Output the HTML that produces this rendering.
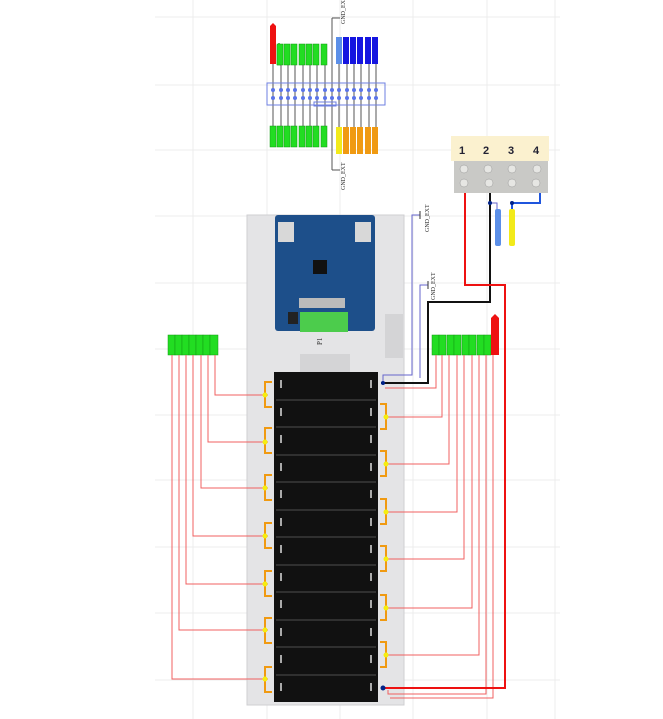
<!DOCTYPE html>
<html><head><meta charset="utf-8"><style>
html,body{margin:0;padding:0;background:#fff;}
svg{display:block;font-family:"Liberation Serif",serif;}
</style></head><body>
<svg width="663" height="719" viewBox="0 0 663 719" xmlns="http://www.w3.org/2000/svg">
<!-- grid -->
<g stroke="#ececec" stroke-width="1">
<line x1="193" y1="0" x2="193" y2="719"/><line x1="267" y1="0" x2="267" y2="719"/>
<line x1="340" y1="0" x2="340" y2="719"/><line x1="413" y1="0" x2="413" y2="719"/>
<line x1="487" y1="0" x2="487" y2="719"/><line x1="555" y1="0" x2="555" y2="719"/>
<line x1="155" y1="17" x2="560" y2="17"/><line x1="155" y1="85" x2="560" y2="85"/>
<line x1="155" y1="150" x2="560" y2="150"/><line x1="155" y1="216" x2="560" y2="216"/>
<line x1="155" y1="283" x2="560" y2="283"/><line x1="155" y1="349" x2="560" y2="349"/>
<line x1="155" y1="415" x2="560" y2="415"/><line x1="155" y1="480" x2="560" y2="480"/>
<line x1="155" y1="547" x2="560" y2="547"/><line x1="155" y1="613" x2="560" y2="613"/>
<line x1="155" y1="680" x2="560" y2="680"/>
</g>

<!-- top connector -->
<g stroke="#555" stroke-width="1">
<line x1="273" y1="64" x2="273" y2="127"/><line x1="281" y1="64" x2="281" y2="127"/>
<line x1="288" y1="64" x2="288" y2="127"/><line x1="295" y1="64" x2="295" y2="127"/>
<line x1="303" y1="64" x2="303" y2="127"/><line x1="310" y1="64" x2="310" y2="127"/>
<line x1="317" y1="64" x2="317" y2="127"/><line x1="325" y1="64" x2="325" y2="127"/>
<line x1="332" y1="18" x2="332" y2="170"/>
<line x1="339" y1="64" x2="339" y2="127"/><line x1="347" y1="64" x2="347" y2="127"/>
<line x1="354" y1="64" x2="354" y2="127"/><line x1="361" y1="64" x2="361" y2="127"/>
<line x1="369" y1="64" x2="369" y2="127"/><line x1="376" y1="64" x2="376" y2="127"/>
<line x1="332" y1="18" x2="340" y2="18"/><line x1="332" y1="170" x2="340" y2="170"/>
</g>
<text x="0" y="0" font-size="6" fill="#333" transform="translate(345,24) rotate(-90)">GND_EXT</text>
<text x="0" y="0" font-size="6" fill="#333" transform="translate(345,190) rotate(-90)">GND_EXT</text>
<rect x="267" y="83" width="118" height="22" fill="none" stroke="#6d7fe0" stroke-width="1"/>
<rect x="314" y="102" width="22" height="4" fill="none" stroke="#6d7fe0" stroke-width="1"/>
<g fill="#5b74e8">
<circle cx="273" cy="90" r="2"/><circle cx="281" cy="90" r="2"/><circle cx="288" cy="90" r="2"/><circle cx="295" cy="90" r="2"/><circle cx="303" cy="90" r="2"/><circle cx="310" cy="90" r="2"/><circle cx="317" cy="90" r="2"/><circle cx="325" cy="90" r="2"/><circle cx="332" cy="90" r="2"/><circle cx="339" cy="90" r="2"/><circle cx="347" cy="90" r="2"/><circle cx="354" cy="90" r="2"/><circle cx="361" cy="90" r="2"/><circle cx="369" cy="90" r="2"/><circle cx="376" cy="90" r="2"/>
<circle cx="273" cy="98" r="2"/><circle cx="281" cy="98" r="2"/><circle cx="288" cy="98" r="2"/><circle cx="295" cy="98" r="2"/><circle cx="303" cy="98" r="2"/><circle cx="310" cy="98" r="2"/><circle cx="317" cy="98" r="2"/><circle cx="325" cy="98" r="2"/><circle cx="332" cy="98" r="2"/><circle cx="339" cy="98" r="2"/><circle cx="347" cy="98" r="2"/><circle cx="354" cy="98" r="2"/><circle cx="361" cy="98" r="2"/><circle cx="369" cy="98" r="2"/><circle cx="376" cy="98" r="2"/>
</g>
<!-- top label flags -->
<path d="M270,26 l3,-3 l3,3 v38 h-6z" fill="#ee1111"/>
<g fill="#22dd22" stroke="#119911" stroke-width="0.5">
<path d="M277,45 l2,-2 l2,2 v20 h-4z" transform="translate(0,0)"/>
<rect x="277" y="44" width="6" height="21"/><rect x="284" y="44" width="6" height="21"/><rect x="291" y="44" width="6" height="21"/><rect x="299" y="44" width="6" height="21"/><rect x="306" y="44" width="6" height="21"/><rect x="313" y="44" width="6" height="21"/><rect x="321" y="44" width="6" height="21"/>
<rect x="270" y="126" width="6" height="21"/><rect x="277" y="126" width="6" height="21"/><rect x="284" y="126" width="6" height="21"/><rect x="291" y="126" width="6" height="21"/><rect x="299" y="126" width="6" height="21"/><rect x="306" y="126" width="6" height="21"/><rect x="313" y="126" width="6" height="21"/><rect x="321" y="126" width="6" height="21"/>
</g>
<rect x="336" y="37" width="6" height="27" fill="#5b8fe8"/>
<g fill="#1515e0">
<rect x="343" y="37" width="6" height="27"/><rect x="350" y="37" width="6" height="27"/><rect x="357" y="37" width="6" height="27"/><rect x="365" y="37" width="6" height="27"/><rect x="372" y="37" width="6" height="27"/>
</g>
<rect x="336" y="127" width="6" height="27" fill="#f2ea1a"/>
<g fill="#f09a12">
<rect x="343" y="127" width="6" height="27"/><rect x="350" y="127" width="6" height="27"/><rect x="357" y="127" width="6" height="27"/><rect x="365" y="127" width="6" height="27"/><rect x="372" y="127" width="6" height="27"/>
</g>

<!-- terminal block -->
<rect x="451" y="136" width="98" height="25" fill="#fbf1cf"/>
<g font-family="Liberation Sans, sans-serif" font-weight="bold" font-size="11" fill="#223">
<text x="459" y="154">1</text><text x="483" y="154">2</text><text x="508" y="154">3</text><text x="533" y="154">4</text>
</g>
<rect x="454" y="161" width="94" height="32" fill="#c9c9c6"/>
<g fill="#e6e6e3" stroke="#999" stroke-width="0.5">
<circle cx="464" cy="169" r="4"/><circle cx="488" cy="169" r="4"/><circle cx="512" cy="169" r="4"/><circle cx="537" cy="169" r="4"/>
<circle cx="464" cy="183" r="4"/><circle cx="489" cy="183" r="4"/><circle cx="512" cy="183" r="4"/><circle cx="536" cy="183" r="4"/>
</g>

<!-- main panel -->
<rect x="247" y="215" width="157" height="490" fill="#e4e4e6" stroke="#cfcfd2"/>
<rect x="275" y="215" width="100" height="116" rx="3" fill="#1d4f8a"/>
<rect x="278" y="222" width="16" height="20" fill="#d8d8d8"/>
<rect x="355" y="222" width="16" height="20" fill="#d8d8d8"/>
<rect x="313" y="260" width="14" height="14" fill="#111"/>
<rect x="299" y="298" width="46" height="10" fill="#bbb"/>
<rect x="300" y="312" width="48" height="20" fill="#4ccc4c"/>
<rect x="288" y="312" width="10" height="12" fill="#222"/>
<rect x="300" y="354" width="50" height="18" fill="#d4d4d6"/>
<rect x="385" y="314" width="18" height="44" fill="#d4d4d6"/>
<text x="0" y="0" font-size="7" fill="#333" transform="translate(322,345) rotate(-90)">P1</text>
<!-- battery holder -->
<rect x="274" y="372" width="104" height="330" fill="#111"/>
<g stroke="#3a3a3a" stroke-width="1.5">
<line x1="276" y1="400" x2="376" y2="400"/><line x1="276" y1="427" x2="376" y2="427"/><line x1="276" y1="455" x2="376" y2="455"/><line x1="276" y1="482" x2="376" y2="482"/><line x1="276" y1="510" x2="376" y2="510"/><line x1="276" y1="537" x2="376" y2="537"/><line x1="276" y1="565" x2="376" y2="565"/><line x1="276" y1="592" x2="376" y2="592"/><line x1="276" y1="620" x2="376" y2="620"/><line x1="276" y1="647" x2="376" y2="647"/><line x1="276" y1="675" x2="376" y2="675"/>
</g>
<g fill="#aaa">
<rect x="280" y="380" width="2" height="8"/><rect x="370" y="380" width="2" height="8"/><rect x="280" y="408" width="2" height="8"/><rect x="370" y="408" width="2" height="8"/><rect x="280" y="435" width="2" height="8"/><rect x="370" y="435" width="2" height="8"/><rect x="280" y="463" width="2" height="8"/><rect x="370" y="463" width="2" height="8"/><rect x="280" y="490" width="2" height="8"/><rect x="370" y="490" width="2" height="8"/><rect x="280" y="518" width="2" height="8"/><rect x="370" y="518" width="2" height="8"/><rect x="280" y="545" width="2" height="8"/><rect x="370" y="545" width="2" height="8"/><rect x="280" y="573" width="2" height="8"/><rect x="370" y="573" width="2" height="8"/><rect x="280" y="600" width="2" height="8"/><rect x="370" y="600" width="2" height="8"/><rect x="280" y="628" width="2" height="8"/><rect x="370" y="628" width="2" height="8"/><rect x="280" y="655" width="2" height="8"/><rect x="370" y="655" width="2" height="8"/><rect x="280" y="683" width="2" height="8"/><rect x="370" y="683" width="2" height="8"/>
</g>

<!-- left/right connectors -->
<g fill="#22dd22" stroke="#119911" stroke-width="0.5">
<rect x="168" y="335" width="7" height="20"/><rect x="175" y="335" width="7" height="20"/><rect x="182" y="335" width="7" height="20"/><rect x="189" y="335" width="7" height="20"/><rect x="196" y="335" width="7" height="20"/><rect x="203" y="335" width="7" height="20"/><rect x="210" y="335" width="8" height="20"/>
<rect x="432" y="335" width="7" height="20"/><rect x="439" y="335" width="7" height="20"/><rect x="447" y="335" width="7" height="20"/><rect x="454" y="335" width="7" height="20"/><rect x="462" y="335" width="7" height="20"/><rect x="469" y="335" width="7" height="20"/><rect x="477" y="335" width="7" height="20"/><rect x="484" y="335" width="7" height="20"/>
</g>
<path d="M491,318 l4,-4 l4,4 v37 h-8z" fill="#ee1111"/>

<!-- thin red signal wires left -->
<g fill="none" stroke="#f06060" stroke-width="1">
<polyline points="215,355 215,395 268,395"/>
<polyline points="208,355 208,442 268,442"/>
<polyline points="201,355 201,488 268,488"/>
<polyline points="193,355 193,536 268,536"/>
<polyline points="186,355 186,584 268,584"/>
<polyline points="179,355 179,630 268,630"/>
<polyline points="172,355 172,679 268,679"/>
<polyline points="436,355 436,388 385,388"/>
<polyline points="442,355 442,417 385,417"/>
<polyline points="449,355 449,464 385,464"/>
<polyline points="457,355 457,512 385,512"/>
<polyline points="464,355 464,559 385,559"/>
<polyline points="472,355 472,608 385,608"/>
<polyline points="479,355 479,655 385,655"/>
<polyline points="486,355 486,694 388,694 388,690"/>
<polyline points="493,355 493,698 390,698"/>
</g>
<!-- orange brackets -->
<g fill="none" stroke="#f09a12" stroke-width="2">
<polyline points="272,382 265,382 265,407 272,407"/>
<polyline points="272,428 265,428 265,453 272,453"/>
<polyline points="272,475 265,475 265,500 272,500"/>
<polyline points="272,523 265,523 265,548 272,548"/>
<polyline points="272,571 265,571 265,596 272,596"/>
<polyline points="272,618 265,618 265,643 272,643"/>
<polyline points="272,667 265,667 265,692 272,692"/>
<polyline points="380,404 386,404 386,429 380,429"/>
<polyline points="380,451 386,451 386,476 380,476"/>
<polyline points="380,499 386,499 386,524 380,524"/>
<polyline points="380,546 386,546 386,571 380,571"/>
<polyline points="380,595 386,595 386,620 380,620"/>
<polyline points="380,642 386,642 386,667 380,667"/>
</g>
<g fill="#f5ee10">
<circle cx="265" cy="395" r="2.5"/><circle cx="265" cy="442" r="2.5"/><circle cx="265" cy="488" r="2.5"/><circle cx="265" cy="536" r="2.5"/><circle cx="265" cy="584" r="2.5"/><circle cx="265" cy="630" r="2.5"/><circle cx="265" cy="679" r="2.5"/>
<circle cx="386" cy="417" r="2.5"/><circle cx="386" cy="464" r="2.5"/><circle cx="386" cy="512" r="2.5"/><circle cx="386" cy="559" r="2.5"/><circle cx="386" cy="608" r="2.5"/><circle cx="386" cy="655" r="2.5"/>
</g>

<!-- GND wires -->
<g fill="none" stroke="#6666cc" stroke-width="1">
<polyline points="420,215 412,215 412,375 383,375 383,383"/>
<polyline points="428,285 420,285 420,378"/>
</g>
<g stroke="#333" stroke-width="1"><line x1="420" y1="211" x2="420" y2="219"/><line x1="428" y1="281" x2="428" y2="289"/></g>
<text x="0" y="0" font-size="6" fill="#333" transform="translate(429,232) rotate(-90)">GND_EXT</text>
<text x="0" y="0" font-size="6" fill="#333" transform="translate(435,300) rotate(-90)">GND_EXT</text>

<!-- power wires -->
<polyline points="490,193 490,302 428,302 428,383 381,383" fill="none" stroke="#111" stroke-width="2"/>
<polyline points="465,193 465,285 505,285 505,688 383,688" fill="none" stroke="#ee1111" stroke-width="2"/>
<polyline points="540,193 540,203 512,203 512,210" fill="none" stroke="#1f55dd" stroke-width="2"/>
<polyline points="490,203 497,203 497,210" fill="none" stroke="#6666cc" stroke-width="1"/>
<circle cx="490" cy="203" r="2" fill="#002288"/><circle cx="512" cy="203" r="2" fill="#002288"/>
<rect x="495" y="209" width="6" height="37" rx="2" fill="#5b8fe8"/>
<rect x="509" y="209" width="6" height="37" rx="2" fill="#f2ea1a"/>
<circle cx="383" cy="383" r="2" fill="#002288"/><circle cx="383" cy="688" r="2.5" fill="#002288"/>
</svg>
</body></html>
